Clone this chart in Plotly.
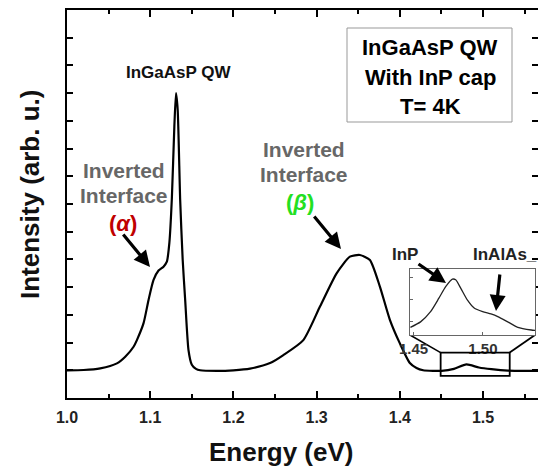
import plotly.graph_objects as go

# ---- data ----
energy = [1.00, 1.02, 1.04, 1.06, 1.07, 1.08, 1.084, 1.092, 1.098, 1.104, 1.110, 1.116,
          1.120, 1.123, 1.126, 1.129, 1.131, 1.133, 1.136, 1.139, 1.142, 1.146, 1.150,
          1.155, 1.160, 1.18, 1.20, 1.22, 1.244, 1.26, 1.284, 1.304, 1.324, 1.340, 1.352,
          1.364, 1.376, 1.388, 1.400, 1.412, 1.420, 1.428, 1.44, 1.45, 1.465, 1.480,
          1.495, 1.51, 1.53, 1.566]
intensity = [1.00, 1.01, 1.07, 1.25, 1.49, 1.85, 2.09, 2.70, 3.54, 4.26, 4.60, 4.74,
             4.92, 5.60, 7.20, 9.80, 11.0, 10.4, 7.15, 5.00, 3.54, 1.73, 1.20,
             1.05, 1.00, 0.98, 1.00, 1.06, 1.26, 1.55, 2.09, 3.30, 4.50, 5.10, 5.16,
             4.98, 4.02, 2.82, 1.97, 1.26, 1.08, 1.00, 0.98, 0.98, 1.05, 1.21,
             1.10, 1.04, 0.99, 0.98]

inset_energy = [1.4478, 1.4551, 1.4623, 1.4683, 1.4732, 1.4780, 1.4804, 1.4841, 1.4889,
                1.4937, 1.4998, 1.5058, 1.5107, 1.5179, 1.5251, 1.5348, 1.5375]
inset_intensity = [0.117, 0.20, 0.355, 0.56, 0.735, 0.85, 0.84, 0.71, 0.53,
                   0.41, 0.355, 0.32, 0.28, 0.20, 0.117, 0.076, 0.07]

x_ticks = [1.0, 1.1, 1.2, 1.3, 1.4, 1.5]
inset_ticks = [1.45, 1.50]
zoom_box_x = [1.449, 1.532]
zoom_box_y = [0.80, 1.64]

# ---- geometry helpers ----
W, H = 538, 466
L, R, T, B = 67, 0, 10, 68
XR = [1.0, 1.566]
YR = [0, 14]
PW, PH = W - L - R, H - T - B


def px2x(px):
    return XR[0] + (px - L) / PW * (XR[1] - XR[0])


def py2y(py):
    return YR[0] + (H - B - py) / PH * (YR[1] - YR[0])


def px2paper(px):
    return (px - L) / PW


def py2paper(py):
    return (H - B - py) / PH


FONT = "Liberation Sans, Arial, sans-serif"

fig = go.Figure()
fig.add_trace(go.Scatter(x=energy, y=intensity, mode="lines",
                         line=dict(color="black", width=2.2, shape="spline", smoothing=0.6),
                         hoverinfo="skip", showlegend=False))
fig.add_trace(go.Scatter(x=[], y=[], xaxis="x", yaxis="y3", showlegend=False))
fig.add_trace(go.Scatter(x=inset_energy, y=inset_intensity, mode="lines",
                         line=dict(color="#222", width=1.3, shape="spline", smoothing=0.6),
                         xaxis="x2", yaxis="y2", hoverinfo="skip", showlegend=False))

ax_common = dict(showgrid=False, zeroline=False)
fig.update_layout(
    width=W, height=H, margin=dict(l=L, r=R, t=T, b=B),
    plot_bgcolor="white", paper_bgcolor="white",
    font=dict(family=FONT, color="black"),
    xaxis=dict(range=XR, showline=True, linewidth=2, linecolor="black", mirror="ticks",
               ticks="inside", ticklen=7, tickwidth=2, tickcolor="black",
               tickvals=x_ticks, ticktext=[f"{v:.1f}" for v in x_ticks],
               minor=dict(ticks="inside", ticklen=4, tickwidth=2, dtick=0.05, tick0=1.0,
                          tickcolor="black", showgrid=False),
               tickfont=dict(size=16, family=FONT, weight="bold", color="#222"),
               ticklabelstandoff=4, **ax_common),
    yaxis=dict(range=YR, showline=True, linewidth=2, linecolor="black",
               ticks="inside", ticklen=6, tickwidth=2, tickcolor="black",
               dtick=1, tick0=0, showticklabels=False, **ax_common),
    yaxis3=dict(range=YR, overlaying="y", side="right", anchor="x", showline=False,
                ticks="inside", ticklen=6, tickwidth=2, tickcolor="black",
                dtick=1, tick0=0, showticklabels=False, **ax_common),
    xaxis2=dict(domain=[px2paper(410), px2paper(535)], anchor="y2",
                range=[1.4475, 1.5375], showline=True, mirror=True, linewidth=1,
                linecolor="#666", ticks="inside", ticklen=3, tickcolor="#666",
                tickvals=inset_ticks, ticktext=[f"{v:.2f}" for v in inset_ticks],
                tickfont=dict(size=15, family=FONT, weight="bold", color="#333"),
                ticklabelstandoff=0, **ax_common),
    yaxis2=dict(domain=[py2paper(335), py2paper(269.3)], anchor="x2", range=[0, 1],
                showline=True, mirror=True, linewidth=1, linecolor="#666",
                ticks="inside", ticklen=3, tickcolor="#666", tick0=0.2, dtick=0.335,
                showticklabels=False, **ax_common),
)

# zoom rectangle and connectors
fig.add_shape(type="rect", xref="x", yref="y", x0=zoom_box_x[0], x1=zoom_box_x[1],
              y0=zoom_box_y[0], y1=zoom_box_y[1], line=dict(color="black", width=1.8))
bx0 = (zoom_box_x[0] - XR[0]) / (XR[1] - XR[0])
bx1 = (zoom_box_x[1] - XR[0]) / (XR[1] - XR[0])
by1 = zoom_box_y[1] / YR[1]
fig.add_shape(type="line", xref="paper", yref="paper", x0=bx0, y0=by1,
              x1=px2paper(410), y1=py2paper(335), line=dict(color="black", width=1.5),
              layer="below")
fig.add_shape(type="line", xref="paper", yref="paper", x0=bx1, y0=by1,
              x1=px2paper(535), y1=py2paper(335), line=dict(color="black", width=1.8),
              layer="below")

# legend-like box
fig.add_shape(type="rect", xref="paper", yref="paper", x0=px2paper(347), x1=px2paper(512),
              y0=py2paper(122), y1=py2paper(28), line=dict(color="#999", width=1),
              fillcolor="white")


def text(px, py, s, size, color="black", anchor="center"):
    fig.add_annotation(x=px2x(px), y=py2y(py), xref="x", yref="y", text=s, showarrow=False,
                       xanchor=anchor, yanchor="middle",
                       font=dict(size=size, family=FONT, weight="bold", color=color))


text(430, 47, "InGaAsP QW", 22)
text(430, 77, "With InP cap", 22)
text(430, 106, "T= 4K", 22)
text(178, 72, "InGaAsP QW", 17, "#111")

GRAY = "#676767"
text(124, 170, "Inverted", 21, GRAY)
text(124, 195, "Interface", 21, GRAY)
text(123, 223, "(<i>α</i>)", 22, "#c00000")
text(304, 149, "Inverted", 21, GRAY)
text(304, 174, "Interface", 21, GRAY)
text(300, 202, "(<i>β</i>)", 22, "#22e022")
text(405, 254, "InP", 17, "#222")
text(505, 254, "InAlAs_", 17, "#222")


def arrow(tx, ty, hx, hy):
    fig.add_annotation(x=px2x(hx), y=py2y(hy), ax=px2x(tx), ay=py2y(ty),
                       xref="x", yref="y", axref="x", ayref="y", text="",
                       showarrow=True, arrowhead=2, arrowsize=1.0, arrowwidth=3.2,
                       arrowcolor="black")


arrow(122, 233, 150, 267)
arrow(313, 215, 341, 249)
arrow(417, 263, 446, 283)
arrow(500, 273, 496, 311)

# axis titles
fig.add_annotation(xref="paper", yref="paper", x=px2paper(30), y=py2paper(195),
                   text="Intensity (arb. u.)", textangle=-90, showarrow=False,
                   xanchor="center", yanchor="middle",
                   font=dict(size=26, family=FONT, weight="bold", color="#111"))
fig.add_annotation(xref="paper", yref="paper", x=px2paper(281), y=py2paper(452),
                   text="Energy (eV)", showarrow=False, xanchor="center", yanchor="middle",
                   font=dict(size=26, family=FONT, weight="bold", color="#111"))

fig.write_html("out.html")
